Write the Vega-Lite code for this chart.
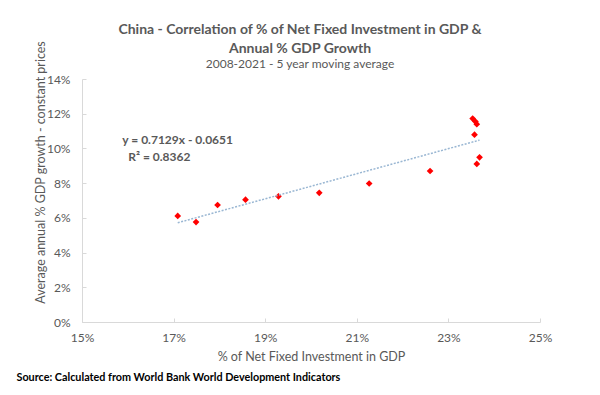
{
  "$schema": "https://vega.github.io/schema/vega-lite/v6.json",
  "width": 458,
  "height": 243,
  "autosize": {"type": "none"},
  "padding": {"left": 82, "top": 79, "right": 60, "bottom": 73},
  "background": "white",
  "config": {
    "font": "Lato",
    "view": {"stroke": null},
    "axis": {
      "grid": false,
      "domainColor": "#d9d9d9",
      "tickColor": "#d9d9d9",
      "labelColor": "#595959",
      "labelFontSize": 12,
      "titleColor": "#595959",
      "titleFontSize": 12.5,
      "titleFontWeight": "normal",
      "labelFlush": false,
      "labelOverlap": false
    }
  },
  "title": {
    "text": ["China - Correlation of % of Net Fixed Investment in GDP &", "Annual % GDP Growth"],
    "subtitle": "2008-2021 - 5 year moving average",
    "fontSize": 14,
    "fontWeight": "bold",
    "color": "#595959",
    "subtitleColor": "#595959",
    "subtitleFontSize": 12,
    "lineHeight": 19,
    "subtitlePadding": 3,
    "anchor": "middle",
    "dx": -11,
    "offset": -29
  },
  "datasets": {
    "pts": [
      {"year": "2008", "x": 0.1709, "y": 0.0611},
      {"year": "2009", "x": 0.1749, "y": 0.0576},
      {"year": "2010", "x": 0.1796, "y": 0.0674},
      {"year": "2011", "x": 0.1857, "y": 0.0705},
      {"year": "2012", "x": 0.1929, "y": 0.0724},
      {"year": "2013", "x": 0.2018, "y": 0.0744},
      {"year": "2014", "x": 0.2127, "y": 0.0798},
      {"year": "2015", "x": 0.2260, "y": 0.0870},
      {"year": "2016", "x": 0.2368, "y": 0.0949},
      {"year": "2017", "x": 0.2362, "y": 0.0911},
      {"year": "2018", "x": 0.2357, "y": 0.1079},
      {"year": "2019", "x": 0.2362, "y": 0.1140},
      {"year": "2020", "x": 0.2359, "y": 0.1155},
      {"year": "2021", "x": 0.2353, "y": 0.1172}
    ],
    "notes": [
      {"label": "y = 0.7129x - 0.0651", "x": 0.1588, "y": 0.1047},
      {"label": "R² = 0.8362", "x": 0.1601, "y": 0.0949}
    ]
  },
  "encoding": {
    "y": {
      "field": "y", "type": "quantitative",
      "scale": {"domain": [0, 0.14], "nice": false},
      "axis": {
        "format": ".0%",
        "values": [0, 0.02, 0.04, 0.06, 0.08, 0.1, 0.12, 0.14],
        "title": "Average annual % GDP growth - constant prices",
        "tickSize": -4,
        "labelPadding": 16,
        "labelOverlap": false,
        "labelFlush": false,
        "titleX": -42,
        "titleY": 93,
        "titleAngle": -90,
        "titleAlign": "center",
        "titleBaseline": "middle"
      }
    }
  },
  "resolve": {"axis": {"x": "independent"}},
  "layer": [
    {
      "data": {"name": "pts"},
      "mark": {"type": "point", "shape": "diamond", "filled": true, "color": "#ff0000", "size": 45, "opacity": 1},
      "encoding": {
        "x": {
          "field": "x", "type": "quantitative",
          "scale": {"domain": [0.15, 0.25], "nice": false, "zero": false},
          "axis": {
            "format": ".0%",
            "values": [0.15, 0.17, 0.19, 0.21, 0.23, 0.25],
            "title": "% of Net Fixed Investment in GDP",
            "tickSize": -4,
            "labelPadding": 14,
            "labelOverlap": false,
            "labelFlush": false,
            "titleY": 34,
            "titleBaseline": "middle",
            "orient": "bottom"
          }
        }
      }
    },
    {
      "data": {"name": "pts"},
      "transform": [{"regression": "y", "on": "x", "method": "linear"}],
      "mark": {"type": "line", "color": "#9ab7d3", "strokeWidth": 1.5, "strokeDash": [2, 1.5]},
      "encoding": {
        "x": {
          "field": "x", "type": "quantitative",
          "axis": {
            "orient": "bottom",
            "title": "Source: Calculated from World Bank World Development Indicators",
            "labels": false,
            "ticks": false,
            "domain": false,
            "titleX": -66,
            "titleY": 55,
            "titleAlign": "left",
            "titleAnchor": "start",
            "titleBaseline": "middle",
            "titleFontWeight": "bold",
            "titleColor": "#000000",
            "titleFontSize": 10.8
          }
        }
      }
    },
    {
      "data": {"name": "notes"},
      "mark": {"type": "text", "align": "left", "baseline": "middle", "fontSize": 12, "fontWeight": "bold", "color": "#595959"},
      "encoding": {
        "x": {"field": "x", "type": "quantitative", "axis": null},
        "text": {"field": "label"}
      }
    }
  ]
}
